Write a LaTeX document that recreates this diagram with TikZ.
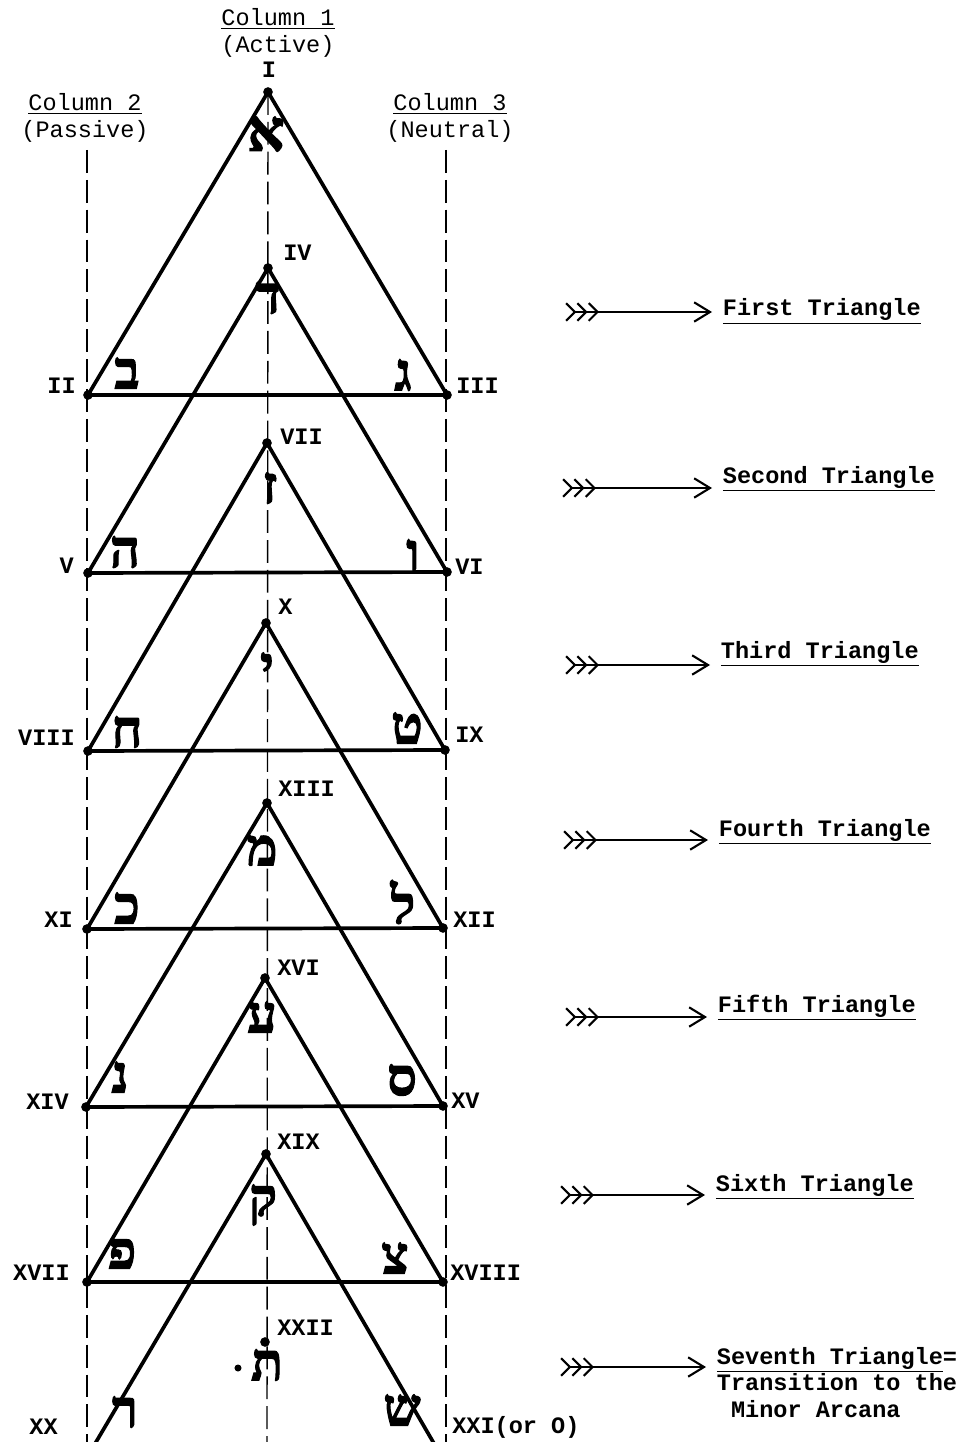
\documentclass[tikz,border=0pt]{standalone}
\usepackage{fontspec}
\setmainfont{Liberation Mono}
\newfontfamily\hebfont[Script=Hebrew, FakeBold=2]{Liberation Serif Bold}
\TeXXeTstate=1
\usetikzlibrary{arrows.meta}

\tikzset{
  tri/.style={line width=2.1pt, line join=round},
  column/.style={line width=0.8pt, dash pattern=on 13pt off 4pt},
  dot/.style={circle, fill=black, inner sep=0pt, minimum size=5.5pt},
  numeral/.style={font=\fontsize{13.4}{15}\selectfont\bfseries, inner sep=0pt},
  heb/.style={font=\hebfont\fontsize{30}{30}\selectfont, inner sep=0pt},
  heading/.style={font=\fontsize{13.4}{15}\selectfont, align=center, inner sep=0pt},
  triname/.style={font=\fontsize{13.4}{15}\selectfont\bfseries, align=left, anchor=base west, inner sep=6pt},
  feather/.style={line width=1.2pt,
    {Straight Barb[reversed,length=5pt,width=10pt] Straight Barb[reversed,length=5pt,width=10pt] Straight Barb[reversed,length=5pt,width=10pt]}-{Straight Barb[length=9pt,width=11pt]}}
}

\begin{document}
\begin{tikzpicture}[x=0.02cm, y=-0.02cm]
  \clip (0,0) rectangle (963,1442);

  % column headings
  \node[heading] (col1) at (278,33) {\underline{Column 1}\\(Active)};
  \node[heading] (col2) at (85,118) {\underline{Column 2}\\(Passive)};
  \node[heading] (col3) at (450,118) {\underline{Column 3}\\(Neutral)};

  % vertices
  \foreach \n/\x/\y in {1/268/92, 2/88/395, 3/447/395,
                        4/268/268, 5/88/573, 6/447/572,
                        7/267/443, 8/88/751, 9/445/750,
                        10/266/623, 11/87/929, 12/443/928,
                        13/267/803, 14/86/1107, 15/443/1106,
                        16/265/978, 17/87/1282, 18/443/1282,
                        19/266/1154, 20/86/1459, 21/443/1459,
                        22/265/1342}
    \coordinate (p\n) at (\x,\y);

  % the three columns
  \coordinate (c1bot) at (267,1442);
  \coordinate (c2top) at (87,150);
  \coordinate (c2bot) at (87,1442);
  \coordinate (c3top) at (446,150);
  \coordinate (c3bot) at (446,1442);
  \draw[column] (p1) -- (c1bot);
  \draw[column] (c2top) -- (c2bot);
  \draw[column] (c3top) -- (c3bot);

  % triangles
  \foreach \a/\b/\c in {1/2/3, 4/5/6, 7/8/9, 10/11/12, 13/14/15, 16/17/18, 19/20/21}
    \draw[tri] (p\a) -- (p\b) -- (p\c) -- cycle;

  \foreach \n in {1,...,22}
    \node[dot] (v\n) at (p\n) {};

  % numbers of the arcana
  \node[numeral] (r1) at (269,70) {I};
  \foreach \n/\txt/\anc/\x/\y in {2/II/east/76/386, 3/III/west/456/386,
      4/IV/west/283/253, 5/V/east/74/566, 6/VI/west/455/567,
      7/VII/west/280/437, 8/VIII/east/75/738, 9/IX/west/455/735,
      10/X/west/278/607, 11/XI/east/73/920, 12/XII/west/453/920,
      13/XIII/west/278/789, 14/XIV/east/69/1102, 15/XV/west/451/1101,
      16/XVI/west/277/968, 17/XVII/east/70/1273, 18/XVIII/west/450/1273,
      19/XIX/west/277/1142, 20/XX/east/58/1427, 21/XXI(or O)/west/452/1427,
      22/XXII/west/277/1328}
    \node[numeral, anchor=\anc] (r\n) at (\x,\y) {\txt};

  % letters
  \node[heb, font=\hebfont\fontsize{33}{33}\selectfont] (h1) at (266,134) {\beginR א\endR};
  \foreach \n/\ch/\x/\y in {2/ב/127/373, 3/ג/403/375, 4/ד/268/298,
      5/ה/125/552, 6/ו/413/555, 7/ז/270/488, 8/ח/127/732, 9/ט/407/728,
      10/י/267/668, 11/כ/127/908, 12/ל/403/902, 13/מ/262/850,
      14/נ/120/1077, 15/ס/402/1080, 16/ע/262/1017, 17/פ/122/1253,
      18/צ/395/1258, 19/ק/263/1205, 20/ר/125/1412, 21/ש/402/1410,
      22/ת/267/1365}
    \node[heb] (h\n) at (\x,\y) {\beginR\ch\endR};
  \node[dot, minimum size=4pt] (tavdot) at (238,1368) {};

  % the seven triangles
  \node[triname] (tri1) at (712,316) {\underline{First Triangle}};
  \node[triname] (tri2) at (712,483) {\underline{Second Triangle}};
  \node[triname] (tri3) at (710,658) {\underline{Third Triangle}};
  \node[triname] (tri4) at (708,836) {\underline{Fourth Triangle}};
  \node[triname] (tri5) at (707,1012) {\underline{Fifth Triangle}};
  \node[triname] (tri6) at (705,1191) {\underline{Sixth Triangle}};
  \node[triname] (tri7) at (706,1417) {\underline{Seventh Triangle}=\\Transition to the\\\hspace*{0.6em}Minor Arcana};

  \foreach \n/\x/\y in {1/565/312, 2/562/488, 3/565/665, 4/563/840,
                        5/565/1017, 6/560/1195, 7/560/1367}
  {
    \coordinate (f\n) at (\x,\y);
    \draw[feather] (f\n) -- (f\n -| tri\n.west);
  }
\end{tikzpicture}
\end{document}
